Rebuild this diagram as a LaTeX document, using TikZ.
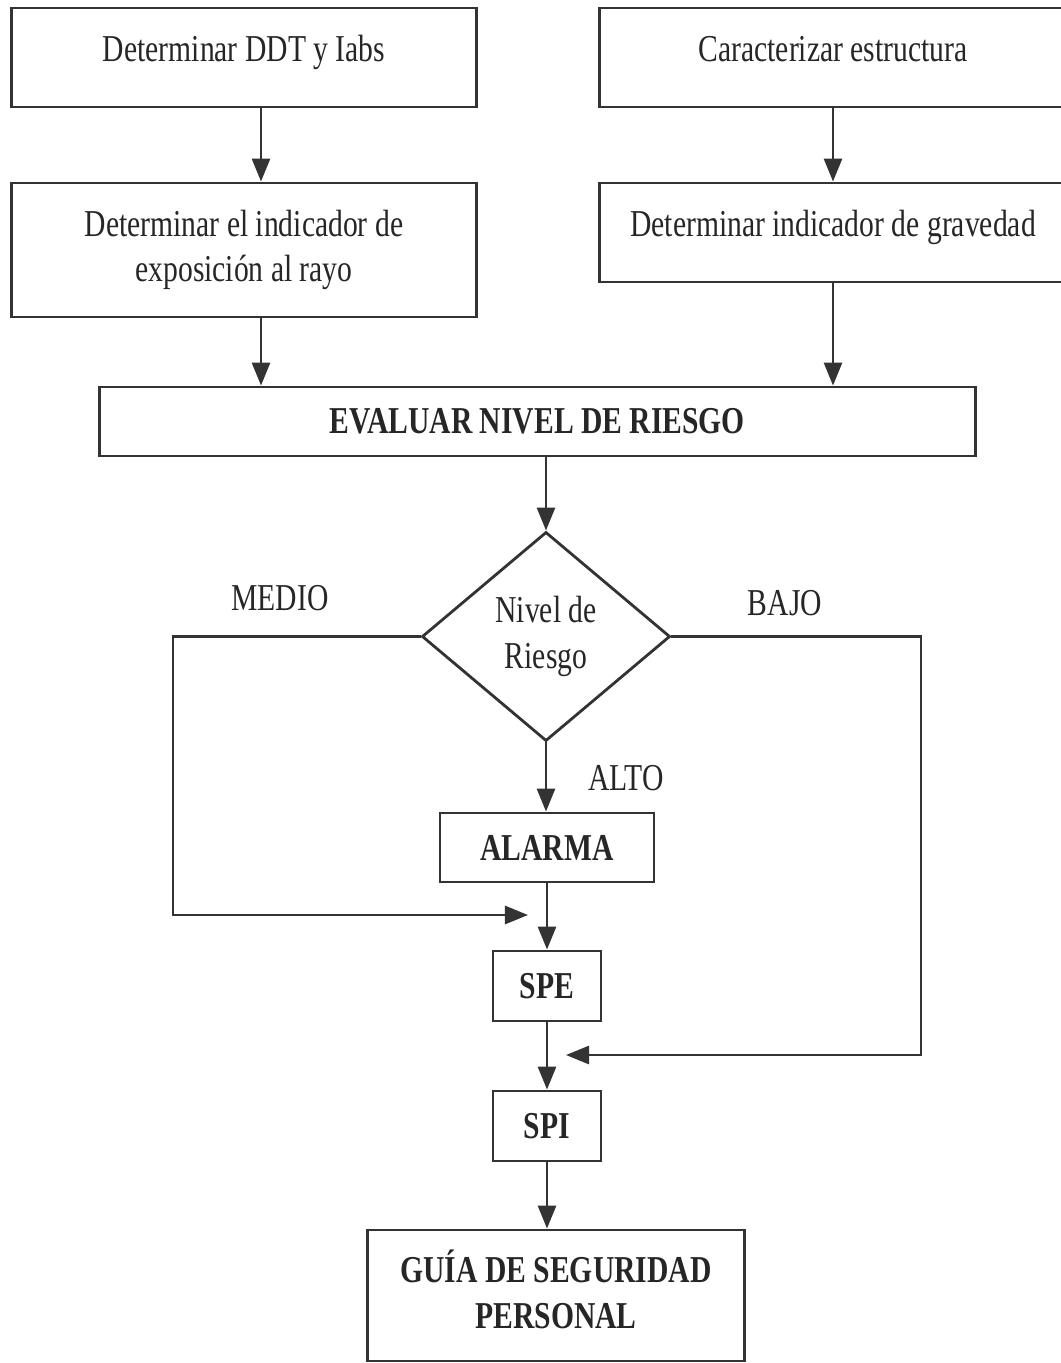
\documentclass[tikz,border=0pt]{standalone}
\usepackage{fontspec}
\setmainfont{Liberation Serif}[FakeStretch=0.78]
\usetikzlibrary{shapes.geometric,arrows.meta}

\begin{document}
\begin{tikzpicture}[x=0.01cm,y=-0.01cm,line width=0.8pt,
  caja/.style={draw=black!80,rectangle,inner sep=0pt,align=center,text=black!85,
    font=\fontsize{10.8}{13}\selectfont},
  alta/.style={text height=0.3cm,text depth=0.22cm},
  negrita/.style={font=\fontsize{10.8}{13}\selectfont\bfseries},
  decision/.style={draw=black!80,diamond,inner sep=0pt,align=center,text=black!85,
    minimum width=2.48cm,minimum height=2.09cm,font=\fontsize{10.8}{13}\selectfont},
  etiqueta/.style={text=black!85,font=\fontsize{10.8}{13}\selectfont},
  arr/.style={draw=black!80,-{Triangle[length=2.3mm,width=1.8mm]}}]
  \useasboundingbox (0,0) rectangle (1060,1363);
  % cajas de arriba
  \node[caja,alta,minimum width=4.64cm,minimum height=0.99cm] (ddt) at (244,57.5) {Determinar DDT y Iabs};
  \node[caja,minimum width=4.64cm,minimum height=1.34cm] (expo) at (244,250) {Determinar el indicador de\\exposición al rayo};
  \node[caja,alta,minimum width=4.66cm,minimum height=0.99cm] (estr) at (833,57.5) {Caracterizar estructura};
  \node[caja,alta,minimum width=4.66cm,minimum height=0.99cm] (grav) at (833,232.5) {Determinar indicador de gravedad};
  \node[caja,negrita,minimum width=8.75cm,minimum height=0.69cm] (eval) at (537.5,421.5) {EVALUAR NIVEL DE RIESGO};
  % decision
  \node[decision] (nivel) at (546,636.5) {Nivel de\\Riesgo};
  \node[caja,negrita,minimum width=2.14cm,minimum height=0.69cm] (alarma) at (547,847.5) {ALARMA};
  \node[caja,negrita,minimum width=1.08cm,minimum height=0.70cm] (spe) at (547,986) {SPE};
  \node[caja,negrita,minimum width=1.08cm,minimum height=0.70cm] (spi) at (547,1126) {SPI};
  \node[caja,negrita,text depth=0.12cm,minimum width=3.76cm,minimum height=1.31cm] (guia) at (556,1295.5) {GUÍA DE SEGURIDAD\\PERSONAL};
  % etiquetas
  \node[etiqueta] (medio) at (280,598) {MEDIO};
  \node[etiqueta] (bajo) at (785,603) {BAJO};
  \node[etiqueta] (alto) at (626,778) {ALTO};
  % flechas
  \coordinate (ab) at ([xshift=0.17cm]ddt.south);
  \coordinate (bc) at ([xshift=0.17cm]expo.south);
  \draw[arr] (ab) -- (ab |- expo.north);
  \draw[arr] (bc) -- (bc |- eval.north);
  \draw[arr] (estr.south) -- (grav.north);
  \draw[arr] (grav.south) -- (grav.south |- eval.north);
  \draw[arr] (nivel.north |- eval.south) -- (nivel.north);
  \draw[arr] (nivel.south) -- (nivel.south |- alarma.north);
  \draw[arr] (alarma.south) -- (spe.north);
  \draw[arr] (spe.south) -- (spi.north);
  \draw[arr] (spi.south) -- (spi.south |- guia.north);
  \coordinate (fmedio) at (528,915);
  \coordinate (fbajo) at (566,1055);
  \draw[arr] (nivel.west) -| (173,915) -- (fmedio);
  \draw[arr] (nivel.east) -| (921,1055) -- (fbajo);
\end{tikzpicture}
\end{document}
